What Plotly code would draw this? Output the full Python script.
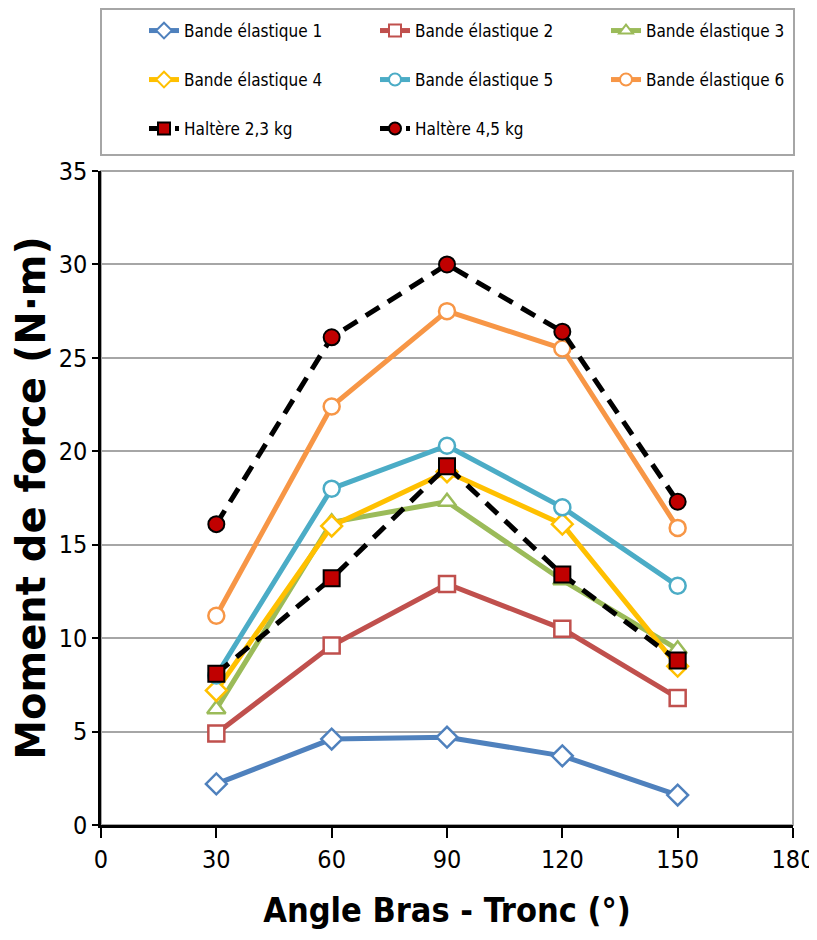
import plotly.graph_objects as go

angles = [30, 60, 90, 120, 150]

bande1 = [2.2, 4.6, 4.7, 3.7, 1.6]
bande2 = [4.9, 9.6, 12.9, 10.5, 6.8]
bande3 = [6.2, 16.2, 17.3, 13.1, 9.4]
bande4 = [7.2, 16.0, 18.9, 16.1, 8.5]
bande5 = [8.0, 18.0, 20.3, 17.0, 12.8]
bande6 = [11.2, 22.4, 27.5, 25.5, 15.9]
haltere23 = [8.1, 13.2, 19.2, 13.4, 8.8]
haltere45 = [16.1, 26.1, 30.0, 26.4, 17.3]

x_ticks = [0, 30, 60, 90, 120, 150, 180]
y_ticks = [0, 5, 10, 15, 20, 25, 30, 35]

FONT = "DejaVu Sans Condensed, Lato, sans-serif"

# The page body has an 8px margin, so the figure is sized to fit the rest of the window.
W, H = 809, 924
L, R, T, B = 93, 24, 163, 107
pw, ph = W - L - R, H - T - B

def px2paper_x(px):
    return (px - L) / pw

def py2paper_y(py):
    return (H - B - py) / ph

# legend grid (figure pixels): 3 columns, 3 rows
col_x = [136, 367, 598]
row_y = [23, 72, 121]

series = [
    ("Bande élastique 1", bande1, "#4f81bd", "diamond", "white"),
    ("Bande élastique 2", bande2, "#c0504d", "square", "white"),
    ("Bande élastique 3", bande3, "#9bbb59", "triangle-up", "white"),
    ("Bande élastique 4", bande4, "#ffc000", "diamond", "white"),
    ("Bande élastique 5", bande5, "#4bacc6", "circle", "white"),
    ("Bande élastique 6", bande6, "#f79646", "circle", "white"),
]

fig = go.Figure()
legends = {}
idx = 0

def legend_name(i):
    return "legend" if i == 0 else f"legend{i + 1}"

leg_common = dict(orientation="h", xref="container", yref="container",
                  xanchor="left", yanchor="middle",
                  font=dict(family=FONT, size=17, color="black"), bgcolor="rgba(0,0,0,0)",
                  itemsizing="constant")

for name, vals, col, sym, fill in series:
    lg = legend_name(idx)
    fig.add_trace(go.Scatter(
        x=angles, y=vals, name=name, mode="lines+markers", legend=lg,
        line=dict(color=col, width=5),
        marker=dict(symbol=sym, size=16, color=fill, line=dict(color=col, width=2.5)),
    ))
    legends[lg] = dict(**leg_common, x=col_x[idx % 3] / W, y=1 - row_y[idx // 3] / H)
    idx += 1

for name, vals, sym in [("Haltère 2,3 kg", haltere23, "square"), ("Haltère 4,5 kg", haltere45, "circle")]:
    lg = legend_name(idx)
    fig.add_trace(go.Scatter(
        x=angles, y=vals, name=name, mode="lines+markers", legend=lg,
        line=dict(color="black", width=5, dash="16px,10px"),
        marker=dict(symbol=sym, size=16, color="#c00000", line=dict(color="black", width=2)),
    ))
    legends[lg] = dict(**leg_common, x=col_x[idx % 3] / W, y=1 - row_y[idx // 3] / H)
    idx += 1

fig.update_layout(
    width=W, height=H,
    margin=dict(l=L, r=R, t=T, b=B, autoexpand=False),
    paper_bgcolor="white", plot_bgcolor="white",
    showlegend=True,
    **legends,
    xaxis=dict(range=[0, 180], tickvals=x_ticks, showgrid=False, zeroline=False, automargin=False,
               showline=True, linecolor="black", linewidth=2.5,
               ticks="outside", ticklen=10, tickwidth=2, tickcolor="black",
               tickfont=dict(family=FONT, size=25, color="black"),
               title=dict(text="<b>Angle Bras - Tronc (°)</b>",
                          font=dict(family=FONT, size=34, color="black"), standoff=26)),
    yaxis=dict(range=[0, 35], tickvals=y_ticks, showgrid=True, gridcolor="#a6a6a6", gridwidth=1.5,
               zeroline=False, showline=True, linecolor="black", linewidth=2.5, automargin=False,
               ticks="outside", ticklen=6, tickwidth=2, tickcolor="black",
               tickfont=dict(family=FONT, size=25, color="black"),
               title=dict(text="<b>Moment de force (N·m)</b>",
                          font=dict(family="DejaVu Sans, sans-serif", size=40, color="black"), standoff=10)),
    shapes=[
        dict(type="rect", xref="paper", yref="paper", x0=0, x1=1, y0=0, y1=1,
             line=dict(color="#a6a6a6", width=2), fillcolor="rgba(0,0,0,0)", layer="below"),
        dict(type="rect", xref="paper", yref="paper",
             x0=px2paper_x(93), x1=px2paper_x(786), y0=py2paper_y(147), y1=py2paper_y(1),
             line=dict(color="#a6a6a6", width=2), fillcolor="rgba(0,0,0,0)"),
    ],
)

fig.write_html("out.html")
